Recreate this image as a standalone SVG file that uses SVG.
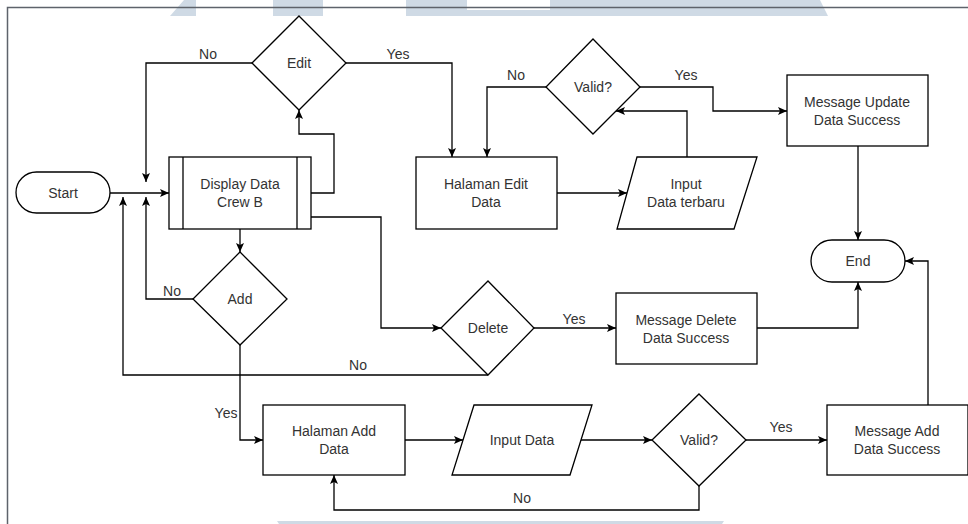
<svg xmlns="http://www.w3.org/2000/svg" width="968" height="524" viewBox="0 0 968 524">
<style>
.wm{fill:#cfdae5;stroke:none}
.frame{fill:none;stroke:#5e636b;stroke-width:1.5}
.node{fill:#ffffff;stroke:#000000;stroke-width:1.3}
.t{font-family:"Liberation Sans",Arial,sans-serif;font-size:14px;fill:#333333;text-anchor:middle;dominant-baseline:central}
.edge{fill:none;stroke:#000000;stroke-width:1.3}
</style>
<defs>
<marker id="arr" markerUnits="userSpaceOnUse" markerWidth="10" markerHeight="10" refX="9" refY="4" orient="auto">
<path d="M0,0 L9,4 L0,8 L2,4 Z" fill="#000000"/>
</marker>
</defs>
<rect width="968" height="524" fill="#ffffff"/>
<g id="watermark">
<polygon class="wm" points="184,0 196,0 196,16 170,16"/>
<rect class="wm" x="273" y="0" width="50" height="16"/>
<polygon class="wm" points="406,0 467,0 467,10 550,10 550,0 820,0 828,16 406,16"/>
<polygon class="wm" points="277,521 724,521 722,524 279,524"/>
</g>
<g id="frame">
<path class="frame" d="M7.5,524 V7.5 H968"/>
</g>
<g id="connectors">
<path class="edge" marker-end="url(#arr)" d="M110,193 H169"/>
<path class="edge" marker-end="url(#arr)" d="M311,193 H334 V134 H299 V110"/>
<path class="edge" marker-end="url(#arr)" d="M252,63 H146 V182"/>
<path class="edge" marker-end="url(#arr)" d="M346,63 H452 V157"/>
<path class="edge" marker-end="url(#arr)" d="M240,229 V252"/>
<path class="edge" marker-end="url(#arr)" d="M193,299 H146 V197"/>
<path class="edge" marker-end="url(#arr)" d="M311,217 H381 V328 H441"/>
<path class="edge" marker-end="url(#arr)" d="M534,328 H616"/>
<path class="edge" marker-end="url(#arr)" d="M488,375 H123 V197"/>
<path class="edge" marker-end="url(#arr)" d="M240,345 V440 H263"/>
<path class="edge" marker-end="url(#arr)" d="M405,440 H463"/>
<path class="edge" marker-end="url(#arr)" d="M581,440 H652"/>
<path class="edge" marker-end="url(#arr)" d="M746,440 H827"/>
<path class="edge" marker-end="url(#arr)" d="M699,486 V510 H334 V475"/>
<path class="edge" marker-end="url(#arr)" d="M928,405 V261 H905"/>
<path class="edge" marker-end="url(#arr)" d="M757,328 H858 V282"/>
<path class="edge" marker-end="url(#arr)" d="M858,146 V240"/>
<path class="edge" marker-end="url(#arr)" d="M557,193 H627"/>
<path class="edge" marker-end="url(#arr)" d="M687,157 V111 H616"/>
<path class="edge" marker-end="url(#arr)" d="M546,87 H487 V157"/>
<path class="edge" marker-end="url(#arr)" d="M640,87 H713 V111 H787"/>
<text class="t" x="208" y="54">No</text>
<text class="t" x="398" y="54">Yes</text>
<text class="t" x="516" y="75">No</text>
<text class="t" x="686" y="75">Yes</text>
<text class="t" x="172" y="291">No</text>
<text class="t" x="358" y="365">No</text>
<text class="t" x="574" y="319">Yes</text>
<text class="t" x="226" y="413">Yes</text>
<text class="t" x="781" y="427">Yes</text>
<text class="t" x="522" y="498">No</text>
</g>
<g id="start">
<rect class="node" x="16" y="172" width="94" height="41" rx="20.5"/>
<text class="t" x="63" y="193">Start</text>
</g>
<g id="display">
<rect class="node" x="169" y="157" width="142" height="72"/>
<line class="edge" x1="183" y1="157" x2="183" y2="229"/>
<line class="edge" x1="297" y1="157" x2="297" y2="229"/>
<text class="t" x="240" y="184">Display Data</text>
<text class="t" x="240" y="202">Crew B</text>
</g>
<g id="edit">
<polygon class="node" points="299,16 346,63 299,110 252,63"/>
<text class="t" x="299" y="63">Edit</text>
</g>
<g id="add">
<polygon class="node" points="240,252 287,299 240,345 193,299"/>
<text class="t" x="240" y="299">Add</text>
</g>
<g id="delete">
<polygon class="node" points="488,281 534,328 488,375 441,328"/>
<text class="t" x="488" y="328">Delete</text>
</g>
<g id="halaman-edit">
<rect class="node" x="416" y="157" width="141" height="72"/>
<text class="t" x="486" y="184">Halaman Edit</text>
<text class="t" x="486" y="202">Data</text>
</g>
<g id="input-terbaru">
<polygon class="node" points="637,157 757,157 734,229 617,229"/>
<text class="t" x="686" y="184">Input</text>
<text class="t" x="686" y="202">Data terbaru</text>
</g>
<g id="valid-edit">
<polygon class="node" points="593,39 640,87 593,134 546,87"/>
<text class="t" x="593" y="87">Valid?</text>
</g>
<g id="msg-update">
<rect class="node" x="787" y="75" width="141" height="71"/>
<text class="t" x="857" y="102">Message Update</text>
<text class="t" x="857" y="120">Data Success</text>
</g>
<g id="end">
<rect class="node" x="811" y="240" width="94" height="42" rx="21"/>
<text class="t" x="858" y="261">End</text>
</g>
<g id="msg-delete">
<rect class="node" x="616" y="293" width="141" height="71"/>
<text class="t" x="686" y="320">Message Delete</text>
<text class="t" x="686" y="338">Data Success</text>
</g>
<g id="halaman-add">
<rect class="node" x="263" y="405" width="142" height="70"/>
<text class="t" x="334" y="431">Halaman Add</text>
<text class="t" x="334" y="449">Data</text>
</g>
<g id="input-data">
<polygon class="node" points="474,405 592,405 570,475 452,475"/>
<text class="t" x="522" y="440">Input Data</text>
</g>
<g id="valid-add">
<polygon class="node" points="699,394 746,440 699,486 652,440"/>
<text class="t" x="699" y="440">Valid?</text>
</g>
<g id="msg-add">
<rect class="node" x="827" y="405" width="141" height="70"/>
<text class="t" x="897" y="431">Message Add</text>
<text class="t" x="897" y="449">Data Success</text>
</g>
</svg>
